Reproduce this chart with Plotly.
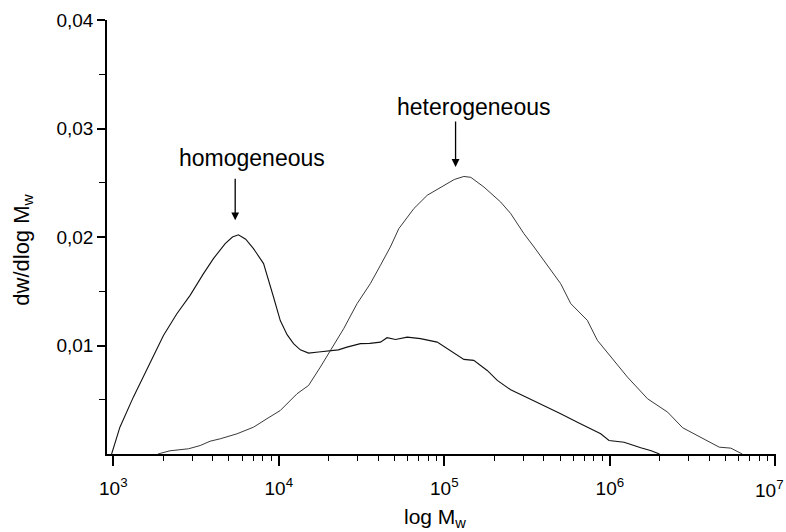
import plotly.graph_objects as go

# ---- data (log10 of molar mass, dw/dlog Mw) ----
homo_logM = [2.99, 3.04, 3.121, 3.222, 3.303, 3.384, 3.464, 3.545, 3.605, 3.676,
             3.72, 3.756, 3.80, 3.847, 3.908, 3.968, 4.009, 4.05, 4.089, 4.13,
             4.18, 4.24, 4.311, 4.36, 4.412, 4.493, 4.55, 4.614, 4.654, 4.705,
             4.776, 4.856, 4.957, 5.037, 5.118, 5.178, 5.259, 5.32, 5.401, 5.502,
             5.602, 5.703, 5.804, 5.885, 5.945, 5.995, 6.086, 6.187, 6.25, 6.30]
homo_w = [0.0, 0.00247, 0.00524, 0.00832, 0.01093, 0.01293, 0.01462, 0.01662, 0.01801, 0.01939,
          0.0200, 0.0202, 0.0198, 0.01893, 0.01755, 0.01447, 0.0123, 0.0110, 0.01017, 0.0096,
          0.0093, 0.0094, 0.00948, 0.0096, 0.00985, 0.01017, 0.0102, 0.01031, 0.01072, 0.01056,
          0.01077, 0.01063, 0.01031, 0.00948, 0.00872, 0.00863, 0.0077, 0.00678, 0.00592, 0.00518,
          0.00447, 0.00371, 0.00293, 0.00232, 0.00186, 0.00125, 0.00109, 0.00057, 0.0003, 0.0]

hetero_logM = [3.27, 3.343, 3.454, 3.525, 3.585, 3.646, 3.747, 3.847, 3.928, 4.009,
               4.11, 4.18, 4.251, 4.311, 4.392, 4.473, 4.553, 4.614, 4.674, 4.725,
               4.816, 4.897, 4.997, 5.06, 5.118, 5.16, 5.239, 5.34, 5.401, 5.481,
               5.542, 5.602, 5.703, 5.764, 5.864, 5.925, 6.006, 6.107, 6.228, 6.308,
               6.349, 6.44, 6.55, 6.661, 6.731, 6.80]
hetero_w = [0.0, 0.0003, 0.00048, 0.00078, 0.00118, 0.0014, 0.00186, 0.00247, 0.00325, 0.00401,
            0.00555, 0.00632, 0.00801, 0.00955, 0.01155, 0.01386, 0.0157, 0.01739, 0.01908, 0.02077,
            0.02262, 0.02385, 0.02477, 0.0253, 0.02558, 0.0255, 0.02461, 0.02323, 0.02216, 0.02031,
            0.01908, 0.01785, 0.0157, 0.01386, 0.01232, 0.01047, 0.00893, 0.00708, 0.00509, 0.00432,
            0.00386, 0.00242, 0.00155, 0.00063, 0.00054, 0.0]

x_tickvals = [1e3, 1e4, 1e5, 1e6, 1e7]
x_ticktext = ["10<sup>3</sup>", "10<sup>4</sup>", "10<sup>5</sup>", "10<sup>6</sup>", ""]
x_last_label = "10<sup>7</sup>"   # drawn separately so it stays inside the page edge
x_minor = [m * 10 ** e for e in range(3, 7) for m in range(2, 10)]
y_tickvals = [0.01, 0.02, 0.03, 0.04]
y_ticktext = ["0,01", "0,02", "0,03", "0,04"]
y_minor = [0.005, 0.015, 0.025, 0.035]

FONT = "Liberation Sans, Arial, sans-serif"

fig = go.Figure()
fig.add_trace(go.Scatter(x=[10 ** v for v in homo_logM], y=homo_w, mode="lines",
                         line=dict(color="#111", width=1.1), name="homogeneous", showlegend=False))
fig.add_trace(go.Scatter(x=[10 ** v for v in hetero_logM], y=hetero_w, mode="lines",
                         line=dict(color="#222", width=0.9), name="heterogeneous", showlegend=False))

fig.update_layout(
    width=786, height=532,
    margin=dict(l=107, r=10, t=20, b=78, autoexpand=False),
    paper_bgcolor="white", plot_bgcolor="white",
    font=dict(family=FONT, color="black", size=18),
    xaxis=dict(type="log", range=[2.962, 7.004], showline=True, linecolor="black", linewidth=1.5,
               ticks="outside", ticklen=10, tickwidth=1.5, tickcolor="black",
               tickmode="array", tickvals=x_tickvals, ticktext=x_ticktext,
               tickfont=dict(size=19), ticklabelstandoff=6,
               showgrid=False, zeroline=False, automargin=False,
               minor=dict(tickmode="array", tickvals=x_minor, ticks="outside", ticklen=5,
                          tickwidth=1.3, tickcolor="black", showgrid=False)),
    yaxis=dict(range=[0, 0.04], showline=True, linecolor="black", linewidth=1.5,
               ticks="outside", ticklen=8, tickwidth=1.5, tickcolor="black",
               tickmode="array", tickvals=y_tickvals, ticktext=y_ticktext,
               tickfont=dict(size=19), showgrid=False, zeroline=False, automargin=False,
               minor=dict(tickmode="array", tickvals=y_minor, ticks="outside", ticklen=6,
                          tickwidth=1.3, tickcolor="black", showgrid=False)),
)

# last x tick label, right-aligned at the page edge
fig.add_annotation(xref="x", yref="paper", x=7.0, y=-0.081, text=x_last_label, showarrow=False,
                   xanchor="right", yanchor="middle", xshift=11, font=dict(size=19, family=FONT))

# axis titles placed as annotations
fig.add_annotation(xref="paper", yref="paper", x=-0.126, y=0.47, text="dw/dlog M<sub>w</sub>",
                   textangle=-90, showarrow=False, font=dict(size=22, family=FONT),
                   xanchor="center", yanchor="middle")
fig.add_annotation(xref="paper", yref="paper", x=0.491, y=-0.148, text="log M<sub>w</sub>",
                   showarrow=False, font=dict(size=21, family=FONT),
                   xanchor="center", yanchor="middle")

# annotations (positions in axis units; log10 for x)
fig.add_annotation(x=3.839, y=0.02726, text="homogeneous", showarrow=False,
                   font=dict(size=23, family=FONT))
fig.add_annotation(x=3.7365, y=0.02154, ax=0, ay=-43, text="", showarrow=True,
                   arrowhead=2, arrowsize=1.2, arrowwidth=1.3, arrowcolor="black")
fig.add_annotation(x=5.177, y=0.03197, text="heterogeneous", showarrow=False,
                   font=dict(size=23, family=FONT))
fig.add_annotation(x=5.068, y=0.02646, ax=0, ay=-47, text="", showarrow=True,
                   arrowhead=2, arrowsize=1.2, arrowwidth=1.3, arrowcolor="black")

fig.write_html("out.html")
